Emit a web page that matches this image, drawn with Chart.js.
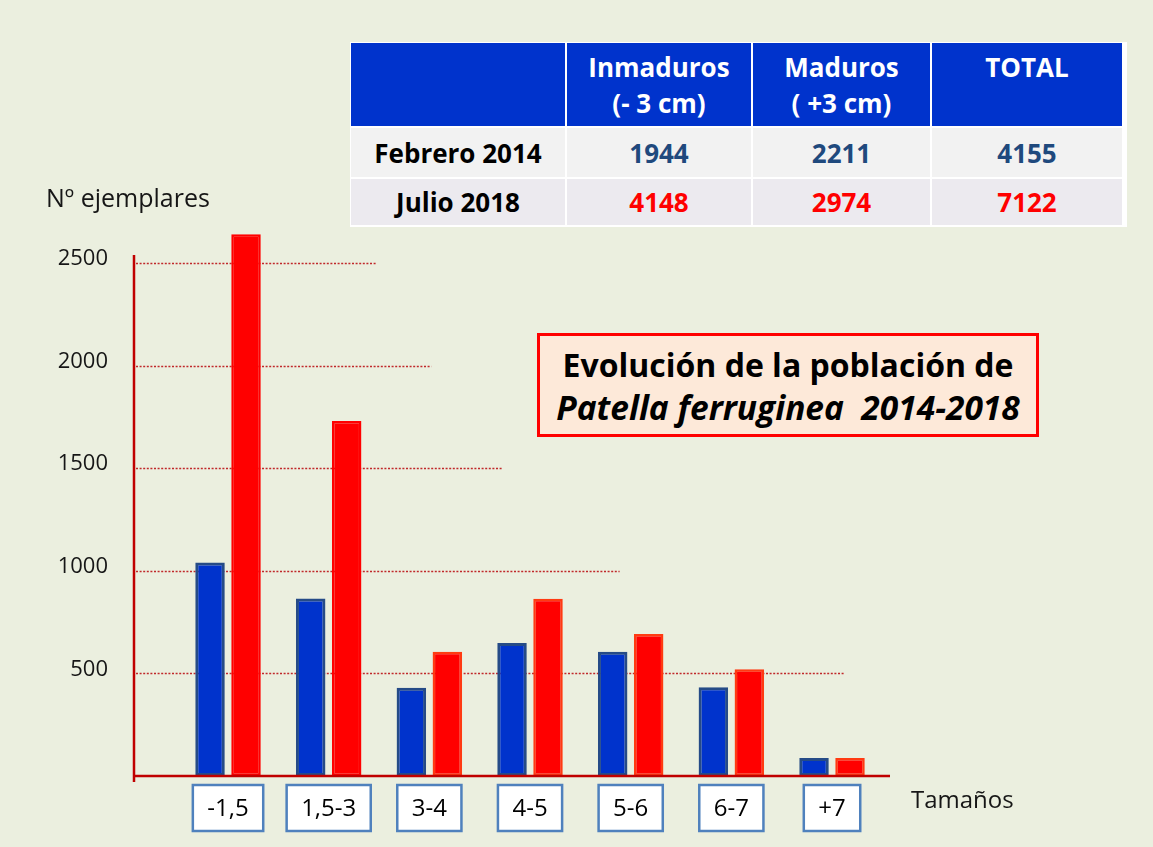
<!DOCTYPE html>
<html>
<head>
<meta charset="utf-8">
<script src="https://cdn.jsdelivr.net/npm/chart.js@4/dist/chart.umd.min.js"></script>
<style>
  html, body { margin: 0; padding: 0; background: #EBEFDF; }
  #wrap { position: relative; width: 1153px; height: 847px; background: #EBEFDF; overflow: hidden; font-family: "Open Sans", sans-serif; }
  canvas { position: absolute; left: 0; top: 0; }
  .lbl { position: absolute; font-size: 24px; color: #161616; line-height: 1; white-space: nowrap; }
  #table { position: absolute; left: 350px; top: 42px; width: 774px; background: #ffffff; padding: 1px 2px 2px 1px;
           display: grid; grid-template-columns: 214px 184px 177px 190px; grid-template-rows: 83px 49px 46px; gap: 2px 2px; }
  #table div { display: flex; align-items: center; justify-content: center; font-weight: bold; font-size: 26px; text-align: center; }
  #table .h { background: #0033CC; color: #fff; align-items: flex-start; padding-top: 6px; line-height: 36px; }
  #table .r1 { background: #F2F2F2; }
  #table .r2 { background: #ECEAEF; }
  #table .v1 { color: #1F497D; }
  #table .v2 { color: #FF0000; }
  #table .n { color: #000; }
  #title { position: absolute; left: 537px; top: 333px; width: 496px; border: 3px solid #FF0000; background: #FDE9D9;
           font-weight: bold; font-size: 32px; color: #000; text-align: center; line-height: 43px; padding-top: 7px; height: 91px; }
  #title .it { font-style: italic; white-space: pre; font-size: 33.5px; }
</style>
</head>
<body>
<div id="wrap">
  <canvas id="c" width="1153" height="847"></canvas>
  <div class="lbl" id="ylab" style="left:46px; top:185px; font-size:25px;">Nº ejemplares</div>
  <div class="lbl" id="xlab" style="left:911px; top:787px;">Tamaños</div>
  <div id="table"></div>
  <div id="title">Evolución de la población de<br><span class="it">Patella ferruginea  2014-2018</span></div>
</div>
<script>
// ---- data ----
const categories = ['-1,5', '1,5-3', '3-4', '4-5', '5-6', '6-7', '+7'];
const febrero2014 = [1040, 865, 430, 648, 606, 432, 88];
const julio2018 = [2640, 1730, 605, 864, 692, 520, 88];
const yTicks = [500, 1000, 1500, 2000, 2500];

const tableHeader = ['', 'Inmaduros\n(- 3 cm)', 'Maduros\n( +3 cm)', 'TOTAL'];
const tableRowNames = ['Febrero 2014', 'Julio 2018'];
const tableFeb = [1944, 2211, 4155];
const tableJul = [4148, 2974, 7122];

// ---- table ----
const tbl = document.getElementById('table');
tableHeader.forEach(h => {
  const d = document.createElement('div'); d.className = 'h';
  d.innerHTML = h.split('\n').join('<br>'); tbl.appendChild(d);
});
[[tableRowNames[0], tableFeb, 'r1', 'v1'], [tableRowNames[1], tableJul, 'r2', 'v2']].forEach(([name, vals, rc, vc]) => {
  const n = document.createElement('div'); n.className = rc + ' n'; n.textContent = name; tbl.appendChild(n);
  vals.forEach(v => { const d = document.createElement('div'); d.className = rc + ' ' + vc; d.textContent = v; tbl.appendChild(d); });
});

// ---- decoration plugin (axis lines, tick labels, partial dotted gridlines, category boxes) ----
const deco = {
  id: 'deco',
  beforeDatasetsDraw(chart, args, opts) {
    const { ctx, scales: { x, y } } = chart;
    ctx.save();
    ctx.strokeStyle = '#C0282B';
    ctx.lineWidth = 1.5;
    ctx.setLineDash([2, 1.6]);
    yTicks.forEach((t, i) => {
      const py = Math.round(y.getPixelForValue(t)) + 0.5;
      ctx.beginPath();
      ctx.moveTo(x.left + 2, py);
      ctx.lineTo(x.getPixelForValue(opts.gridEnds[i]), py);
      ctx.stroke();
    });
    ctx.setLineDash([]);
    // y tick labels placed through the y scale
    ctx.font = '22px "Open Sans"';
    ctx.fillStyle = '#161616';
    ctx.textAlign = 'right';
    ctx.textBaseline = 'middle';
    yTicks.forEach(t => {
      ctx.fillText(String(t), x.left - 26, y.getPixelForValue(t) - 4);
    });
    ctx.restore();
  },
  afterDatasetsDraw(chart, args, opts) {
    const { ctx, chartArea, scales: { x, y } } = chart;
    ctx.save();
    ctx.strokeStyle = '#C00000';
    ctx.lineWidth = 2.5;
    const y0 = y.getPixelForValue(0);
    // y axis line
    ctx.beginPath();
    ctx.moveTo(chartArea.left, y.getPixelForValue(2500) - 8);
    ctx.lineTo(chartArea.left, y0 + 6);
    ctx.stroke();
    // x axis line
    ctx.beginPath();
    ctx.moveTo(chartArea.left, y0);
    ctx.lineTo(chartArea.right, y0);
    ctx.stroke();
    // category boxes
    ctx.font = '24px "Open Sans"';
    ctx.textAlign = 'center';
    ctx.textBaseline = 'middle';
    categories.forEach((c, i) => {
      const cx = x.getPixelForValue(i);
      const w = ctx.measureText(c).width + 29;
      const top = y0 + 9, h = 46;
      ctx.fillStyle = '#FFFFFF';
      ctx.fillRect(cx - w / 2, top, w, h);
      ctx.strokeStyle = '#4F81BD';
      ctx.lineWidth = 2.5;
      ctx.strokeRect(cx - w / 2, top, w, h);
      ctx.fillStyle = '#000000';
      ctx.fillText(c, cx, top + h / 2 + 1);
    });
    ctx.restore();
  }
};

new Chart(document.getElementById('c'), {
  type: 'bar',
  data: {
    datasets: [
      {
        label: 'Febrero 2014',
        data: febrero2014.map((v, i) => ({ x: i, y: v })),
        backgroundColor: '#0033CC',
        borderColor: '#254B87',
        borderWidth: 3,
        borderSkipped: false
      },
      {
        label: 'Julio 2018',
        data: julio2018.map((v, i) => ({ x: i, y: v })),
        backgroundColor: '#FF0000',
        borderColor: ctx => ctx.dataIndex < 2 ? '#FF0000' : '#FF3A12',
        borderWidth: 2.5,
        borderSkipped: false
      }
    ]
  },
  options: {
    responsive: false,
    animation: false,
    categoryPercentage: 0.715,
    barPercentage: 0.82,
    layout: { padding: { left: 134, right: 263, top: 222, bottom: 71 } },
    plugins: {
      legend: { display: false },
      tooltip: { enabled: false },
      deco: { gridEnds: [6.13, 3.89, 2.73, 2.02, 1.48] }
    },
    scales: {
      x: {
        type: 'linear',
        min: -0.934,
        max: 6.576,
        offset: false,
        display: false,
        afterBuildTicks: s => { s.ticks = categories.map((c, i) => ({ value: i })); }
      },
      y: {
        min: 0,
        max: 2700,
        display: false,
        ticks: { stepSize: 500 }
      }
    }
  },
  plugins: [deco]
});
</script>
</body>
</html>
